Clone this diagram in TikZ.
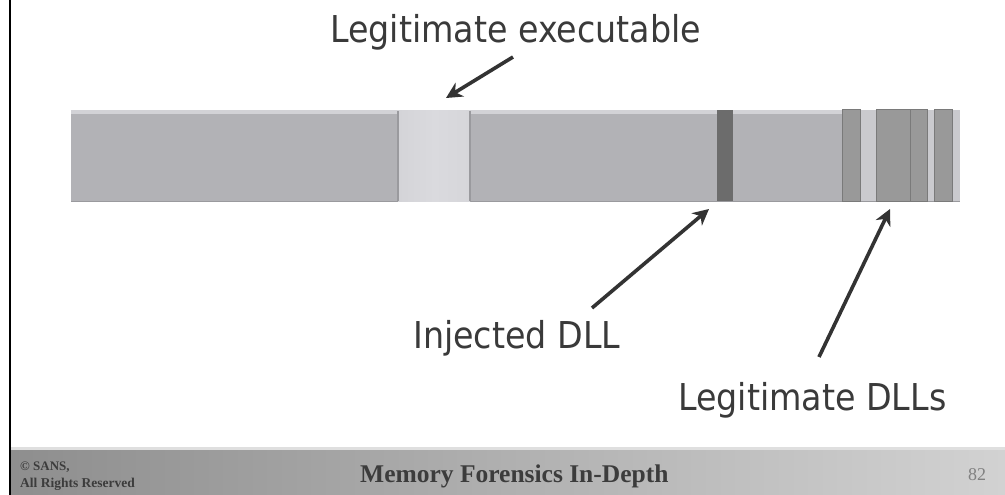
\documentclass[tikz,border=0pt]{standalone}
\usepackage{fontspec}
\usetikzlibrary{arrows.meta}
\newfontfamily\labelfont{DejaVu Sans}[FakeStretch=0.9]
\newfontfamily\footfont{Liberation Serif}
\definecolor{barbase}{HTML}{B2B2B6}
\definecolor{barlight}{HTML}{DADADE}
\definecolor{baredge}{HTML}{9A9A9E}
\definecolor{injected}{HTML}{6C6C6C}
\definecolor{dllfill}{HTML}{999999}
\definecolor{dlledge}{HTML}{7A7A7A}
\definecolor{gapfill}{HTML}{CACACE}
\definecolor{labeltext}{HTML}{3A3A3A}
\definecolor{arrowcol}{HTML}{333333}
\definecolor{footdark}{HTML}{8E8E8E}
\definecolor{footmid}{HTML}{C4C4C4}
\definecolor{footlight}{HTML}{D2D2D2}
\definecolor{foottext}{HTML}{3C3C3C}
\begin{document}
\begin{tikzpicture}[x=1pt,y=-1pt,
  lbl/.style={inner sep=0pt, anchor=base west, text=labeltext,
    font=\labelfont\fontsize{37}{40}\selectfont},
  pointer/.style={draw=arrowcol, line width=3.6pt,
    -{Stealth[length=16pt,width=16pt,inset=5pt]}},
  dllbar/.style={fill=dllfill, draw=dlledge, line width=0.8pt},
  foot/.style={inner sep=0pt, anchor=base west, text=foottext}]
\useasboundingbox (0,0) rectangle (1005,495);
\fill[white] (0,0) rectangle (1005,495);

% memory strip
\fill[barbase] (71,110) rectangle (960,201);
\fill[barlight!80!barbase] (71,110) rectangle (960,114);
\draw[baredge, line width=1pt] (71,201) -- (960,201);
% image region of the executable
\shade[left color=barlight!85!barbase, right color=barlight!90!barbase,
  middle color=barlight] (398,111) rectangle (470,201);
\draw[baredge, line width=1.2pt] (398,111) -- (398,201) (470,111) -- (470,201);
% injected module
\fill[injected] (717,110) rectangle (733,201);
% small gaps between loaded modules
\fill[gapfill] (860,110) rectangle (876,201);
\fill[gapfill] (927,110) rectangle (934,201);
\fill[gapfill] (952,110) rectangle (960,201);
% loaded modules
\draw[dllbar] (842,109) rectangle (860,201);
\draw[dllbar] (876,109) rectangle (910,201);
\draw[dllbar] (910,109) rectangle (927,201);
\draw[dllbar] (934,109) rectangle (952,201);

% labels
\node[lbl] (exe) at (330,43) {Legitimate executable};
\node[lbl] (inj) at (413,348) {Injected DLL};
\node[lbl] (dlls) at (678,410) {Legitimate DLLs};

% arrow end points
\coordinate (exetail) at (513,57);
\coordinate (exetip) at (446,98);
\coordinate (injtail) at (592,308);
\coordinate (injtip) at (709,209);
\coordinate (dlltail) at (819,357);
\coordinate (dlltip) at (890,209);
\draw[pointer] (exetail) -- (exetip);
\draw[pointer] (injtail) -- (injtip);
\draw[pointer] (dlltail) -- (dlltip);

% footer band
\shade[left color=footdark, middle color=footmid, right color=footlight]
  (11,448) rectangle (1005,495);
\fill[footlight!70!white] (11,447) rectangle (1005,449.5);
\node[foot, font=\footfont\bfseries\fontsize{13}{14}\selectfont] (copy) at (20,470) {© SANS,};
\node[foot, font=\footfont\bfseries\fontsize{13.5}{14}\selectfont] (rights) at (20,487) {All Rights Reserved};
\node[foot, font=\footfont\bfseries\fontsize{25.5}{27}\selectfont] (title) at (360,482) {Memory Forensics In-Depth};
\node[foot, font=\footfont\fontsize{18}{20}\selectfont, text=gray] (page) at (968,480) {82};

% left page edge
\draw[black, line width=2pt] (10,0) -- (10,495);
\end{tikzpicture}
\end{document}
